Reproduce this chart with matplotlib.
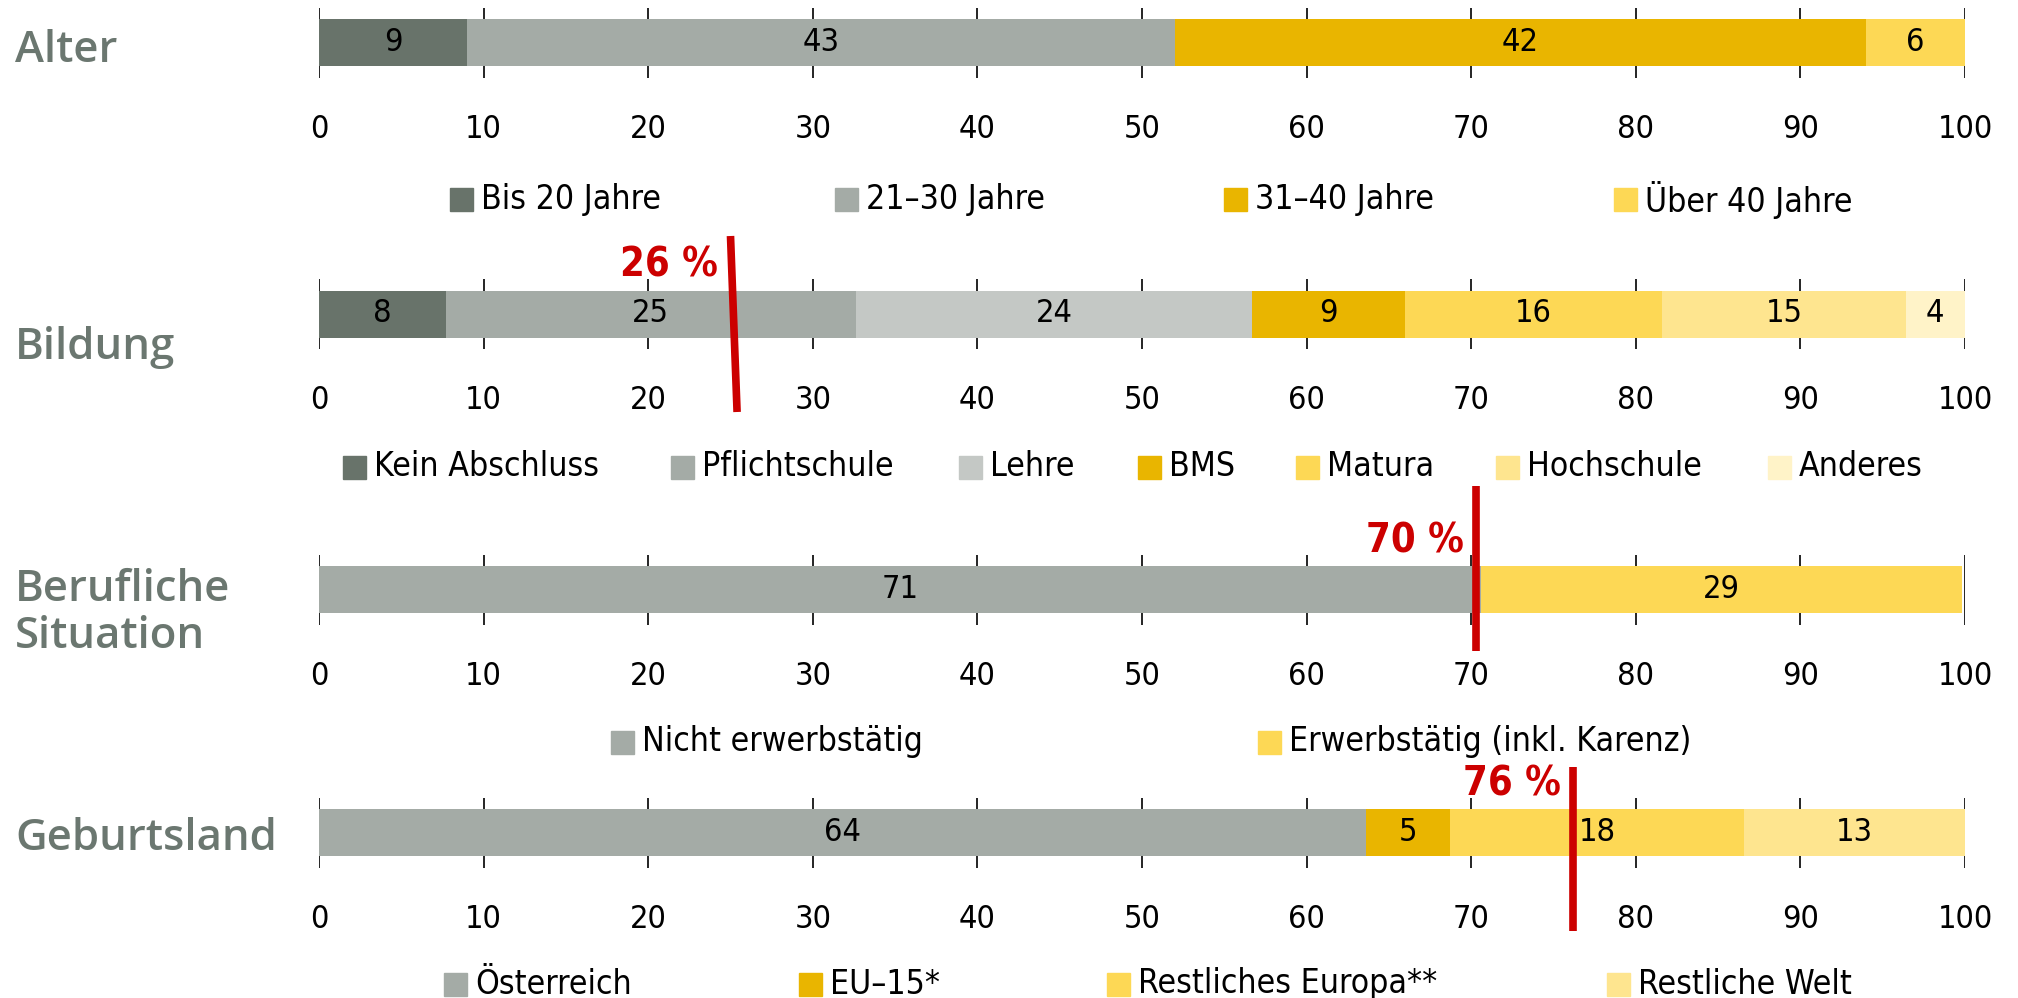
import numpy as np
import matplotlib.pyplot as plt
from matplotlib import font_manager
from matplotlib.patches import Rectangle
from matplotlib.transforms import blended_transform_factory

# condensed label font if available, else the Arial-like Liberation Sans
available = {(f.name, f.stretch) for f in font_manager.fontManager.ttflist}
names = {n for n, s in available}
if 'Liberation Sans Narrow' in names:
    label_family, label_stretch, fs_scale = 'Liberation Sans Narrow', 'normal', 1.1
elif 'DejaVu Sans Condensed' in names:
    label_family, label_stretch, fs_scale = 'DejaVu Sans Condensed', 'condensed', 0.95
elif ('DejaVu Sans', 'condensed') in available or ('DejaVu Sans', 'semi-condensed') in available:
    label_family, label_stretch, fs_scale = 'DejaVu Sans', 'condensed', 0.95
else:
    label_family, label_stretch, fs_scale = 'Liberation Sans', 'normal', 1.0

plt.rcParams['font.family'] = [label_family, 'DejaVu Sans']
plt.rcParams['font.stretch'] = label_stretch

W, H = 2018, 998

# ---- data ----
row_titles = ['Alter', 'Bildung', 'Berufliche\nSituation', 'Geburtsland']

alter_labels = ['Bis 20 Jahre', '21–30 Jahre', '31–40 Jahre', 'Über 40 Jahre']
alter_values = [9, 43, 42, 6]

bildung_labels = ['Kein Abschluss', 'Pflichtschule', 'Lehre', 'BMS', 'Matura',
                  'Hochschule', 'Anderes']
bildung_values = [7.7, 24.9, 24.1, 9.3, 15.6, 14.8, 3.6]

beruf_labels = ['Nicht erwerbstätig', 'Erwerbstätig (inkl. Karenz)']
beruf_values = [70.6, 29.2]

geburt_labels = ['Österreich', 'EU–15*', 'Restliches Europa**', 'Restliche Welt']
geburt_values = [63.6, 5.1, 17.9, 13.4]

ref_labels = [None, '26 %', '70 %', '76 %']
ref_line_x = [None, (25.0, 25.4), (70.3, 70.3), (76.2, 76.2)]

xticks = list(range(0, 101, 10))

# ---- colours ----
c_dark = '#68736a'
c_mid = '#a4aba6'
c_light = '#c4c8c5'
c_gold = '#e9b500'
c_yellow = '#fdd855'
c_ylight = '#fee58f'
c_ypale = '#fff3c8'
title_color = '#6b7770'
red = '#cc0000'

rows = [
    (alter_labels, alter_values, [c_dark, c_mid, c_gold, c_yellow]),
    (bildung_labels, bildung_values,
     [c_dark, c_mid, c_light, c_gold, c_yellow, c_ylight, c_ypale]),
    (beruf_labels, beruf_values, [c_mid, c_yellow]),
    (geburt_labels, geburt_values, [c_mid, c_gold, c_yellow, c_ylight]),
]

# ---- layout (pixels in the 2018x998 picture) ----
bar_center_px = [42.5, 314, 589.5, 832.5]
title_y_px = [51, 347, 613, 839]
legend_y_px = [199.5, 467, 742, 984]
legend_x_px = [[450, 835, 1224, 1614],
               [343, 671, 959, 1138, 1296, 1496, 1768],
               [611, 1258],
               [444, 799, 1107, 1607]]
ref_line_y_px = [None, (236, 412), (486, 651), (767, 931)]
ax_left, ax_right = 319, 1965
ax_half = 35

fs_tick = 24.5 * fs_scale
fs_value = 24.5 * fs_scale
fs_legend = 25.5 * fs_scale
fs_ref = 30 * fs_scale

fig = plt.figure(figsize=(W / 100, H / 100), dpi=100)

for i, (labels, values, colors) in enumerate(rows):
    bottom = 1 - (bar_center_px[i] + ax_half) / H
    ax = fig.add_axes([ax_left / W, bottom, (ax_right - ax_left) / W,
                       2 * ax_half / H])
    left = 0
    for lab, val, col in zip(labels, values, colors):
        ax.barh(0, val, left=left, height=47 / 70, color=col, zorder=2)
        ax.text(left + val / 2, 0, f'{val:.0f}', ha='center', va='center',
                fontsize=fs_value, color='black', zorder=3)
        left += val
    ax.set_xlim(0, 100)
    ax.set_ylim(-0.5, 0.5)
    ax.set_xticks(xticks)
    ax.set_yticks([])
    ax.tick_params(axis='x', length=0, pad=26, labelsize=fs_tick)
    ax.grid(axis='x', color='black', linewidth=1.2)
    ax.set_axisbelow(True)
    for s in ax.spines.values():
        s.set_visible(False)

    # reference line
    if ref_labels[i] is not None:
        tr = blended_transform_factory(ax.transData, fig.transFigure)
        x0, x1 = ref_line_x[i]
        y0, y1 = ref_line_y_px[i]
        ax.plot([x0, x1], [1 - y0 / H, 1 - y1 / H], color=red, linewidth=5.5,
                transform=tr, clip_on=False, zorder=5, solid_capstyle='butt')
        ax.annotate(ref_labels[i], xy=(x0, 1 - (bar_center_px[i] - 48) / H),
                    xycoords=tr, xytext=(-9, 0), textcoords='offset points',
                    ha='right', va='center', fontsize=fs_ref,
                    fontweight='bold', color=red)

    # row title
    fig.text(15 / W, 1 - title_y_px[i] / H, row_titles[i], fontsize=31.5,
             color=title_color, family='Open Sans', fontweight='semibold',
             stretch='normal', ha='left', va='center', linespacing=1.1)

    # legend
    ly = 1 - legend_y_px[i] / H
    for lab, col, lx in zip(labels, colors, legend_x_px[i]):
        fig.patches.append(Rectangle((lx / W, ly - 11.5 / H), 23 / W, 23 / H,
                                     transform=fig.transFigure, color=col))
        fig.text((lx + 31) / W, ly, lab, fontsize=fs_legend, ha='left',
                 va='center')

fig.savefig('out.png', dpi=100)
